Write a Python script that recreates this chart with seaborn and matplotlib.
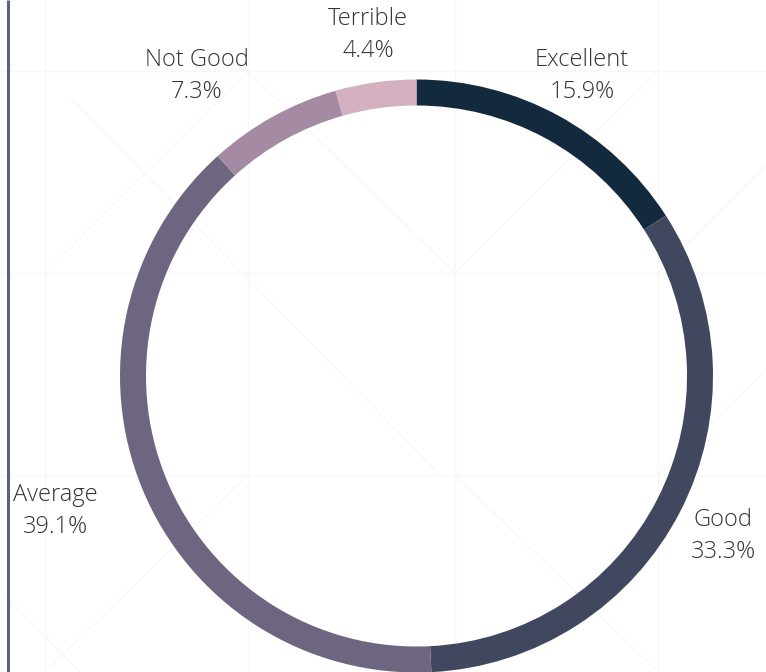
import numpy as np
import matplotlib
matplotlib.use("Agg")
import matplotlib.pyplot as plt
import seaborn as sns

# Rating shares (%), listed clockwise from 12 o'clock
categories = ["Excellent", "Good", "Average", "Not Good", "Terrible"]
shares = [15.9, 33.3, 39.1, 7.3, 4.4]
colors = ["#13293d", "#41475f", "#6e6580", "#a48aa2", "#d4b0c0"]

sns.set_theme(style="white")
plt.rcParams["font.family"] = ["Open Sans", "DejaVu Sans"]

W, H, DPI = 766, 672, 100
fig = plt.figure(figsize=(W / DPI, H / DPI), dpi=DPI)
ax = fig.add_axes([0, 0, 1, 1])

# donut geometry in pixels -> data units (outer radius = 1)
cx, cy, R = 416.5, 376.0, 296.5

def px(x, y):
    return (x - cx) / R, (cy - y) / R

wedges, _ = ax.pie(
    shares,
    colors=colors,
    startangle=90,
    counterclock=False,
    radius=1.0,
    center=(0, 0),
    wedgeprops=dict(width=26 / R, edgecolor="none", linewidth=0),
)

# pie() resets the limits, so fix the view afterwards
ax.set_xlim(-cx / R, (W - cx) / R)
ax.set_ylim(-(H - cy) / R, cy / R)
ax.set_aspect("equal")
ax.axis("off")

# faint decorative backdrop
bg = "#f8f8f9"
for gx in [45, 248, 455, 658]:
    ax.plot(*zip(px(gx, 0), px(gx, H)), color=bg, lw=1.0, zorder=0)
for gy in [71, 273, 475]:
    ax.plot(*zip(px(0, gy), px(W, gy)), color=bg, lw=1.0, zorder=0)
for (x0, y0, x1, y1) in [(45, 273, 248, 71), (70, 97, 440, 475), (248, 71, 455, 273),
                         (455, 273, 658, 71), (658, 273, 766, 165), (248, 475, 45, 672),
                         (455, 475, 658, 672), (658, 475, 766, 370), (0, 590, 80, 672)]:
    ax.plot(*zip(px(x0, y0), px(x1, y1)), color=bg, lw=1.0, zorder=0)

# label centres, set just outside each wedge
label_pos = {
    "Excellent": px(582, 76),
    "Good": px(723, 536),
    "Average": px(55, 511),
    "Not Good": px(197, 76),
    "Terrible": px(368, 35),
}
for cat, val in zip(categories, shares):
    x, y = label_pos[cat]
    ax.text(x, y, f"{cat}\n{val:.1f}%", ha="center", va="center",
            fontsize=17, color="#333333", linespacing=1.45, fontweight="light")

# vertical rule on the left edge
ax.plot(*zip(px(7.5, 0), px(7.5, H)), color="#56657d", lw=2.2, zorder=3,
        solid_capstyle="butt")

fig.savefig("out.png", dpi=DPI, facecolor="white")
